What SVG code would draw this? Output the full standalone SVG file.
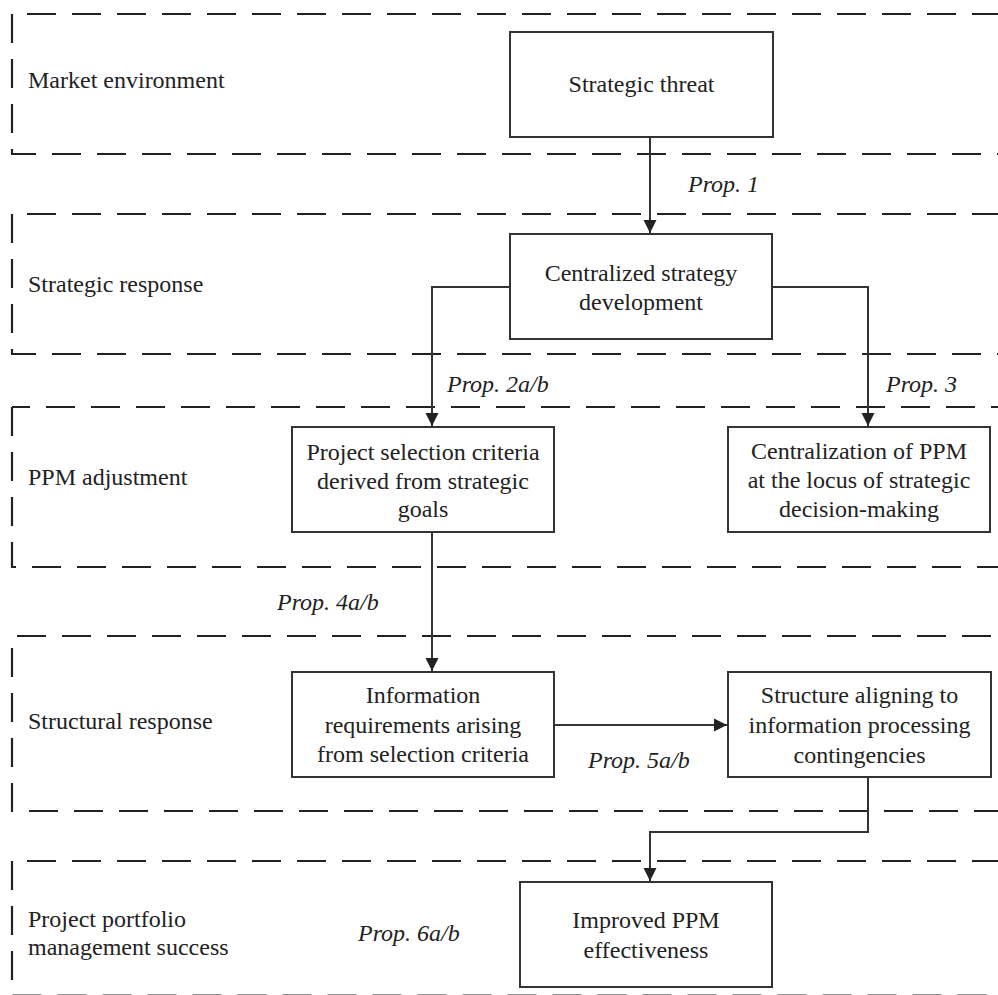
<svg xmlns="http://www.w3.org/2000/svg" width="998" height="995" viewBox="0 0 998 995">
  <defs>
    <style>
      .band { fill: none; stroke: #222; stroke-width: 2.2; stroke-dasharray: 29 16; }
      .box { fill: #fff; stroke: #333; stroke-width: 2; }
      .wire { fill: none; stroke: #333; stroke-width: 2; }
      .lbl { font-family: "Liberation Serif", "Times New Roman", serif; font-size: 24px; fill: #222; }
      .txt { font-family: "Liberation Serif", "Times New Roman", serif; font-size: 24px; fill: #222; text-anchor: middle; }
      .prop { font-family: "Liberation Serif", "Times New Roman", serif; font-size: 24px; font-style: italic; fill: #222; }
    </style>
    <marker id="arrow" viewBox="0 0 14 14" refX="13" refY="7" markerWidth="14" markerHeight="14" markerUnits="userSpaceOnUse" orient="auto">
      <path d="M0,0.5 L13,7 L0,13.5 Z" fill="#222"/>
    </marker>
  </defs>
  <rect width="998" height="995" fill="#fff"/>

  <!-- layer bands: dashed frames open to the right -->
  <g id="bands">
    <g id="band-market">
      <path class="band" d="M12,14 V154 H1010"/>
      <path class="band" d="M27,14 H1010"/>
      <text class="lbl" x="28" y="88">Market environment</text>
    </g>
    <g id="band-strategic">
      <path class="band" d="M12,214 V354 H1010"/>
      <path class="band" d="M27,214 H1010"/>
      <text class="lbl" x="28" y="292">Strategic response</text>
    </g>
    <g id="band-ppm">
      <path class="band" d="M12,407 V567 H1010"/>
      <path class="band" d="M12,407 H1010" stroke-dashoffset="11"/>
      <text class="lbl" x="28" y="485">PPM adjustment</text>
    </g>
    <g id="band-structural">
      <path class="band" d="M12,636 V811 H1010" stroke-dashoffset="33"/>
      <path class="band" d="M17,636 H1010"/>
      <text class="lbl" x="28" y="729">Structural response</text>
    </g>
    <g id="band-success">
      <path class="band" d="M12,861 V995.5 H1010" stroke="#888"/>
      <path class="band" d="M27,861 H1010"/>
      <text class="lbl" x="28" y="927">Project portfolio</text>
      <text class="lbl" x="28" y="955">management success</text>
    </g>
  </g>

  <!-- connectors -->
  <g id="connectors">
    <path class="wire" d="M650,137 V233" marker-end="url(#arrow)"/>
    <path class="wire" d="M510,287 H432 V426" marker-end="url(#arrow)"/>
    <path class="wire" d="M772,287 H868 V426" marker-end="url(#arrow)"/>
    <path class="wire" d="M432,532 V671" marker-end="url(#arrow)"/>
    <path class="wire" d="M554,725 H727" marker-end="url(#arrow)"/>
    <path class="wire" d="M868,777 V832 H650 V881" marker-end="url(#arrow)"/>
    <text class="prop" x="688" y="192">Prop. 1</text>
    <text class="prop" x="447" y="392">Prop. 2a/b</text>
    <text class="prop" x="886" y="392">Prop. 3</text>
    <text class="prop" x="277" y="610">Prop. 4a/b</text>
    <text class="prop" x="588" y="768">Prop. 5a/b</text>
    <text class="prop" x="358" y="941">Prop. 6a/b</text>
  </g>

  <!-- nodes -->
  <g id="strategic-threat">
    <rect class="box" x="510" y="32" width="263" height="105"/>
    <text class="txt" x="641.5" y="92">Strategic threat</text>
  </g>
  <g id="centralized-strategy">
    <rect class="box" x="510" y="234" width="262" height="105"/>
    <text class="txt" x="641" y="281">Centralized strategy</text>
    <text class="txt" x="641" y="310">development</text>
  </g>
  <g id="selection-criteria">
    <rect class="box" x="292" y="427" width="262" height="105"/>
    <text class="txt" x="423" y="460">Project selection criteria</text>
    <text class="txt" x="423" y="489">derived from strategic</text>
    <text class="txt" x="423" y="517">goals</text>
  </g>
  <g id="ppm-centralization">
    <rect class="box" x="728" y="427" width="262" height="105"/>
    <text class="txt" x="859" y="459">Centralization of PPM</text>
    <text class="txt" x="859" y="488">at the locus of strategic</text>
    <text class="txt" x="859" y="517">decision-making</text>
  </g>
  <g id="information-requirements">
    <rect class="box" x="292" y="672" width="262" height="105"/>
    <text class="txt" x="423" y="703">Information</text>
    <text class="txt" x="423" y="733">requirements arising</text>
    <text class="txt" x="423" y="762">from selection criteria</text>
  </g>
  <g id="structure-aligning">
    <rect class="box" x="728" y="672" width="263" height="105"/>
    <text class="txt" x="859.5" y="703">Structure aligning to</text>
    <text class="txt" x="859.5" y="733">information processing</text>
    <text class="txt" x="859.5" y="763">contingencies</text>
  </g>
  <g id="ppm-effectiveness">
    <rect class="box" x="520" y="882" width="252" height="105"/>
    <text class="txt" x="646" y="928">Improved PPM</text>
    <text class="txt" x="646" y="958">effectiveness</text>
  </g>
</svg>
